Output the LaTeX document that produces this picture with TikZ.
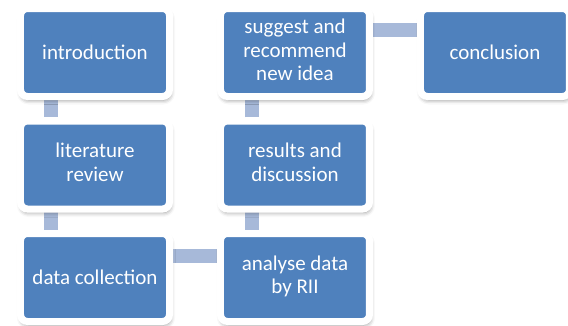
\documentclass[tikz,border=0pt]{standalone}
\usepackage{fontspec}
\setmainfont{Carlito}
\usetikzlibrary{matrix,backgrounds,shadows.blur}

\definecolor{stageblue}{HTML}{4F81BD}
\definecolor{linkblue}{HTML}{A7B9D9}

% several lines in one matrix cell
\newcommand{\stagelines}[1]{\begin{tabular}{@{}c@{}}#1\end{tabular}}

\tikzset{
  stagebox/.style={rectangle, rounded corners=7pt, fill=stageblue, draw=white,
    line width=7pt, minimum width=149pt, minimum height=88pt, inner sep=0pt,
    anchor=center, text=white, font=\fontsize{21}{23.5}\selectfont,
    blur shadow={shadow xshift=1pt, shadow yshift=-3.5pt, shadow blur radius=4.5pt,
      shadow opacity=45}},
  link/.style={linkblue, line width=14pt}
}

\begin{document}
\begin{tikzpicture}[x=1pt,y=1pt]
  \useasboundingbox (0,0) rectangle (568,-326);
  \matrix (m) at (295,-165) [matrix of nodes, nodes=stagebox, row sep=17.5pt, column sep=44pt]
  {
introduction & \stagelines{suggest and\\recommend\\new idea} & conclusion \\
\stagelines{literature\\review} & \stagelines{results and\\discussion} & \\
data collection & \stagelines{analyse data\\by RII} & \\
};
  \begin{scope}[on background layer]
  % bars run behind the boxes
  \draw[link] ([xshift=-44pt]m-1-1.south) -- ([xshift=-44pt]m-2-1.north);
  \draw[link] ([xshift=-44pt]m-2-1.south) -- ([xshift=-44pt]m-3-1.north);
  \draw[link] ([yshift=22pt]m-3-1.east) -- ([yshift=22pt]m-3-2.west);
  \draw[link] ([xshift=-43pt]m-3-2.north) -- ([xshift=-43pt]m-2-2.south);
  \draw[link] ([xshift=-43pt]m-2-2.north) -- ([xshift=-43pt]m-1-2.south);
  \draw[link] ([yshift=22pt]m-1-2.east) -- ([yshift=22pt]m-1-3.west);
  \end{scope}
\end{tikzpicture}
\end{document}
